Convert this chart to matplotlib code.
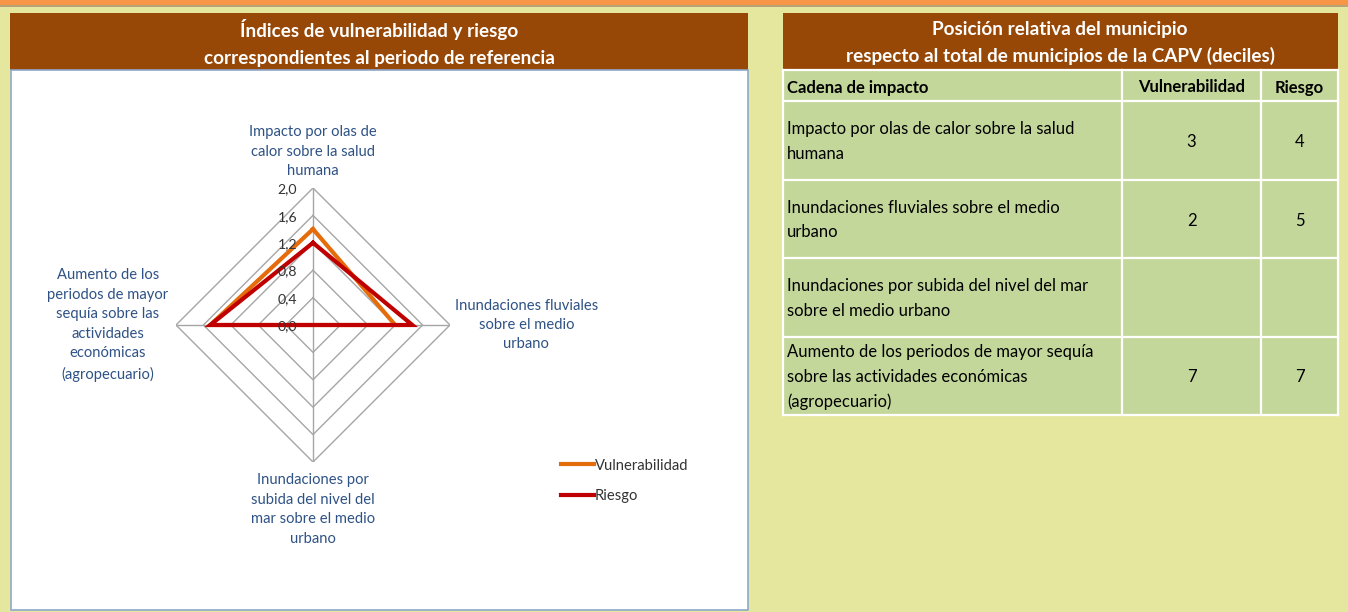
import numpy as np
import matplotlib
matplotlib.use("Agg")
import matplotlib.pyplot as plt
from matplotlib.patches import Rectangle
from matplotlib.lines import Line2D

plt.rcParams['font.family'] = ['Lato', 'DejaVu Sans']

# ---------------- data ----------------
categories = [
    "Impacto por olas de\ncalor sobre la salud\nhumana",
    "Inundaciones fluviales\nsobre el medio\nurbano",
    "Inundaciones por\nsubida del nivel del\nmar sobre el medio\nurbano",
    "Aumento de los\nperiodos de mayor\nsequía sobre las\nactividades\neconómicas\n(agropecuario)",
]
vulnerabilidad = [1.4, 1.2, 0.0, 1.5]
riesgo = [1.2, 1.45, 0.0, 1.5]
r_ticks = [0.0, 0.4, 0.8, 1.2, 1.6, 2.0]
r_tick_labels = ["0,0", "0,4", "0,8", "1,2", "1,6", "2,0"]

chart_title = "Índices de vulnerabilidad y riesgo\ncorrespondientes al periodo de referencia"
table_title = "Posición relativa del municipio\nrespecto al total de municipios de la CAPV (deciles)"
table_headers = ["Cadena de impacto", "Vulnerabilidad", "Riesgo"]
table_rows = [
    "Impacto por olas de calor sobre la salud\nhumana",
    "Inundaciones fluviales sobre el medio\nurbano",
    "Inundaciones por subida del nivel del mar\nsobre el medio urbano",
    "Aumento de los periodos de mayor sequía\nsobre las actividades económicas\n(agropecuario)",
]
table_vuln = ["3", "2", "", "7"]
table_riesgo = ["4", "5", "", "7"]

# ---------------- colors ----------------
BG = "#E6E79F"
BROWN = "#974706"
GREEN = "#C4D79B"
ORANGE = "#E46C0A"
RED = "#C00000"
GRID = "#A6A6A6"
LABEL = "#2E5285"
TICK = "#333333"

W, H = 1348, 612
fig = plt.figure(figsize=(W / 100, H / 100), dpi=100)
fig.patch.set_facecolor(BG)

bg = fig.add_axes([0, 0, 1, 1])
bg.set_xlim(0, W)
bg.set_ylim(H, 0)
bg.axis("off")

# top orange strip
bg.add_patch(Rectangle((0, 0), W, 5, facecolor="#F79646", edgecolor="none"))
bg.add_patch(Rectangle((0, 5), W, 1.5, facecolor="#B9A27A", edgecolor="none"))

# left panel
bg.add_patch(Rectangle((10, 13), 738, 57, facecolor=BROWN, edgecolor="none"))
bg.add_patch(Rectangle((10.5, 70), 737, 539.5, facecolor="white", edgecolor="#8EA9CC", linewidth=1.2))
bg.text(379, 43, chart_title, ha="center", va="center", color="white",
        fontsize=13.6, fontweight="bold", linespacing=1.65)

# right table
tx = [783, 1122, 1261, 1338]
ty = [70, 101, 180, 258, 337, 415]
bg.add_patch(Rectangle((783, 13), 555, 57, facecolor=BROWN, edgecolor="none"))
bg.text(1060, 43, table_title, ha="center", va="center", color="white",
        fontsize=13.6, fontweight="bold", linespacing=1.65)
bg.add_patch(Rectangle((783, 70), 555, 345, facecolor=GREEN, edgecolor="none"))
for x in tx:
    bg.plot([x, x], [70, 415], color="white", lw=1.6)
for y in ty:
    bg.plot([783, 1338], [y, y], color="white", lw=1.6)

FS = 12
hy = (ty[0] + ty[1]) / 2 + 2
bg.text(787, hy, table_headers[0], ha="left", va="center", fontsize=FS, fontweight="bold", color="black")
bg.text((tx[1] + tx[2]) / 2, hy, table_headers[1], ha="center", va="center", fontsize=FS, fontweight="bold", color="black")
bg.text((tx[2] + tx[3]) / 2, hy, table_headers[2], ha="center", va="center", fontsize=FS, fontweight="bold", color="black")
for i, (name, v, r) in enumerate(zip(table_rows, table_vuln, table_riesgo)):
    cy = (ty[i + 1] + ty[i + 2]) / 2
    bg.text(787, cy + 1, name, ha="left", va="center", fontsize=FS, color="black", linespacing=1.62)
    bg.text((tx[1] + tx[2]) / 2, cy + 1.5, v, ha="center", va="center", fontsize=FS, color="black")
    bg.text((tx[2] + tx[3]) / 2, cy + 1.5, r, ha="center", va="center", fontsize=FS, color="black")

# ---------------- radar ----------------
cx, cy, R = 313, 325, 137
ax = fig.add_axes([(cx - R) / W, (H - cy - R) / H, 2 * R / W, 2 * R / H], projection="polar")
ax.set_theta_zero_location("N")
ax.set_theta_direction(-1)
ax.set_ylim(0, 2.0)
ax.grid(False)
ax.set_xticks([])
ax.set_yticks([])
ax.spines["polar"].set_visible(False)
ax.patch.set_alpha(0)

n = len(categories)
angles = np.linspace(0, 2 * np.pi, n, endpoint=False)
closed = np.concatenate([angles, angles[:1]])

for rt in r_ticks[1:]:
    ax.plot(closed, [rt] * (n + 1), color=GRID, lw=1.0, zorder=1)
for a in angles:
    ax.plot([a, a], [0, r_ticks[-1]], color=GRID, lw=1.0, zorder=1)

ax.plot(closed, vulnerabilidad + vulnerabilidad[:1], color=ORANGE, lw=3.0, zorder=3,
        label="Vulnerabilidad", solid_joinstyle="miter")
ax.plot(closed, riesgo + riesgo[:1], color=RED, lw=3.0, zorder=4,
        label="Riesgo", solid_joinstyle="miter")

for rt, lab in zip(r_ticks, r_tick_labels):
    ax.annotate(lab, xy=(0, rt), xytext=(-11.5, -1), textcoords="offset points",
                ha="right", va="center", fontsize=10.2, color=TICK, zorder=5,
                annotation_clip=False)

# category labels
lab_pos = [(0, 2.0, 0, 7, "center", "bottom"),
           (angles[1], 2.0, 55, 0, "center", "center"),
           (angles[2], 2.0, 0, -8, "center", "top"),
           (angles[3], 2.0, -49, 0, "center", "center")]
for (a, r, dx, dy, ha, va), txt in zip(lab_pos, categories):
    ax.annotate(txt, xy=(a, r), xytext=(dx, dy), textcoords="offset points",
                ha=ha, va=va, fontsize=10.6, color=LABEL, linespacing=1.5,
                annotation_clip=False)

fig.legend(handles=[Line2D([], [], color=ORANGE, lw=3), Line2D([], [], color=RED, lw=3)],
           labels=["Vulnerabilidad", "Riesgo"], loc="center left",
           bbox_to_anchor=(548 / W, 1 - 481 / H), frameon=False, fontsize=10.6,
           handlelength=2.2, handletextpad=0.1, labelspacing=1.15, labelcolor=TICK)

fig.savefig("out.png", dpi=100, facecolor=fig.get_facecolor())
